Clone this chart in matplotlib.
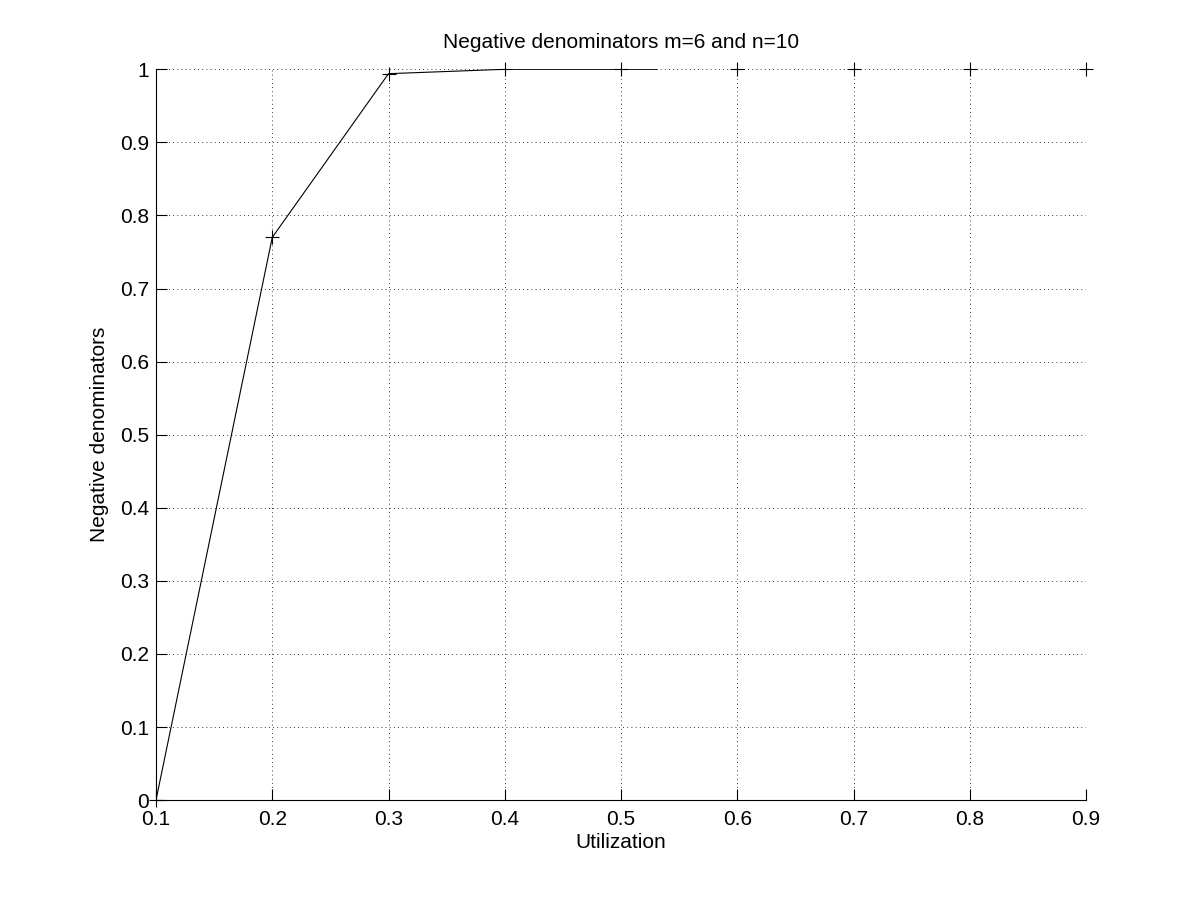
import matplotlib.pyplot as plt
import numpy as np

plt.rcParams['font.family'] = ['Liberation Sans', 'DejaVu Sans']

# marker points
util = [0.1, 0.2, 0.3, 0.4, 0.5, 0.6, 0.7, 0.8, 0.9]
neg_den = [0.0, 0.77, 0.994, 1.0, 1.0, 1.0, 1.0, 1.0, 1.0]
# the drawn line stops short of the last points
line_x = [0.1, 0.2, 0.3, 0.4, 0.5, 0.531]
line_y = [0.0, 0.77, 0.994, 1.0, 1.0, 1.0]

fig = plt.figure(figsize=(12, 9), dpi=100)
ax = fig.add_axes([0.13, 0.111, 0.775, 0.812])

ax.plot(line_x, line_y, color='black', linewidth=0.8)
ax.plot(util, neg_den, linestyle='none', marker='+', color='black',
        markersize=10, markeredgewidth=0.8, clip_on=False)

ax.set_xlim(0.1, 0.9)
ax.set_ylim(0, 1)
ax.set_xticks(np.arange(0.1, 0.91, 0.1))
ax.set_yticks(np.arange(0, 1.01, 0.1))
ax.set_xticklabels(['0.1', '0.2', '0.3', '0.4', '0.5', '0.6', '0.7', '0.8', '0.9'])
ax.set_yticklabels(['0', '0.1', '0.2', '0.3', '0.4', '0.5', '0.6', '0.7', '0.8', '0.9', '1'])

ax.grid(True, color='black', linestyle=(0, (1, 4)), linewidth=0.6)
ax.spines['top'].set_visible(False)
ax.spines['right'].set_visible(False)
ax.tick_params(direction='in', length=8, width=0.8, labelsize=15)
ax.tick_params(axis='x', pad=7)
ax.tick_params(axis='y', pad=5)

ax.set_xlabel('Utilization', fontsize=15, labelpad=3)
ax.set_ylabel('Negative denominators', fontsize=15, labelpad=8)
ax.set_title('Negative denominators m=6 and n=10', fontsize=15, pad=15)

fig.savefig('out.png', dpi=100)
